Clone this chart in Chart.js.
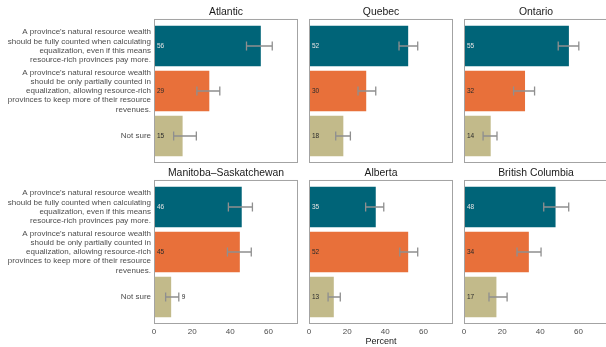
<!DOCTYPE html>
<html><head><meta charset="utf-8">
<script src="https://cdn.jsdelivr.net/npm/chart.js@4/dist/chart.umd.min.js"></script>
<style>
html,body{margin:0;padding:0;background:#fff;overflow:hidden;width:606px;height:347px;}
#stage{position:absolute;left:0;top:0;width:640px;height:347px;}
#stage canvas{position:absolute;}
</style></head><body>
<div id="stage"></div>
<script>
// ---- data ----
const regions = ["Atlantic", "Quebec", "Ontario", "Manitoba–Saskatchewan", "Alberta", "British Columbia"];
const categories = [
  ["A province's natural resource wealth", "should be fully counted when calculating", "equalization, even if this means", "resource-rich provinces pay more."],
  ["A province's natural resource wealth", "should be only partially counted in", "equalization, allowing resource-rich", "provinces to keep more of their resource", "revenues."],
  "Not sure"
];
const fullyCounted     = [56, 52, 55, 46, 35, 48];
const partiallyCounted = [29, 30, 32, 45, 52, 34];
const notSure          = [15, 18, 14, 9, 13, 17];
const fullyLow    = [48.5, 47.2, 49.4, 39.0, 29.7, 41.8];
const fullyHigh   = [62.0, 57.0, 60.2, 51.6, 39.2, 54.9];
const partialLow  = [22.5, 25.7, 26.0, 38.5, 47.6, 27.8];
const partialHigh = [34.5, 35.0, 37.0, 51.0, 57.0, 40.4];
const notSureLow  = [10.3, 14.0, 10.0, 6.1, 10.0, 13.1];
const notSureHigh = [22.2, 21.7, 17.3, 13.0, 16.4, 22.6];
const xTicks = [0, 20, 40, 60];
const axisTitle = "Percent";

// ---- style ----
const barColors = ['#006478', '#E8703A', '#C2BA8A'];
const labelColors = ['#e4e4e4', '#2a2a2a', '#2a2a2a'];
Chart.defaults.font.family = "'Liberation Sans', Arial, sans-serif";

const plotLeft = [154, 309, 464];
const plotWidth = 144;
const yAxisWidth = 154;
const sidePad = 6;

const panelPlugin = {
  id: 'panelDeco',
  afterDatasetsDraw(chart) {
    const i = chart.options.plugins.panelDeco.idx;
    const ctx = chart.ctx;
    const xs = chart.scales.x;
    const meta = chart.getDatasetMeta(0);
    const lows = [fullyLow[i], partialLow[i], notSureLow[i]];
    const highs = [fullyHigh[i], partialHigh[i], notSureHigh[i]];
    const vals = [fullyCounted[i], partiallyCounted[i], notSure[i]];
    const ca = chart.chartArea;
    ctx.save();
    meta.data.forEach((bar, j) => {
      const y = bar.y;
      const x1 = xs.getPixelForValue(lows[j]);
      const x2 = xs.getPixelForValue(highs[j]);
      ctx.strokeStyle = '#8f8f8f';
      ctx.lineWidth = 1.3;
      ctx.beginPath();
      ctx.moveTo(x1, y); ctx.lineTo(x2, y);
      ctx.moveTo(x1, y - 4.5); ctx.lineTo(x1, y + 4.5);
      ctx.moveTo(x2, y - 4.5); ctx.lineTo(x2, y + 4.5);
      ctx.stroke();
    });
    ctx.font = "6.5px 'Liberation Sans', Arial, sans-serif";
    ctx.textBaseline = 'middle';
    ctx.textAlign = 'left';
    meta.data.forEach((bar, j) => {
      const y = bar.y;
      if (vals[j] < 10) {
        ctx.fillStyle = '#2a2a2a';
        ctx.fillText(String(vals[j]), xs.getPixelForValue(highs[j]) + 3, y);
      } else {
        ctx.fillStyle = labelColors[j];
        ctx.fillText(String(vals[j]), ca.left + 3, y);
      }
    });
    ctx.strokeStyle = '#a3a3a3';
    ctx.lineWidth = 1;
    ctx.strokeRect(ca.left + 0.5, ca.top + 0.5, ca.right - ca.left - 1, ca.bottom - ca.top - 1);
    ctx.restore();
  }
};

const stage = document.getElementById('stage');
regions.forEach((name, i) => {
  const row = Math.floor(i / 3), col = i % 3;
  const cv = document.createElement('canvas');
  const padL = col === 0 ? 0 : sidePad;
  const left = col === 0 ? 0 : plotLeft[col] - padL;
  const width = col === 0 ? yAxisWidth + plotWidth : plotWidth + padL;
  const top = row === 0 ? 0 : 161;
  const height = row === 0 ? 164 : 186;
  cv.width = width; cv.height = height;
  cv.style.left = left + 'px'; cv.style.top = top + 'px';
  cv.style.width = width + 'px'; cv.style.height = height + 'px';
  stage.appendChild(cv);
  const values = [fullyCounted[i], partiallyCounted[i], notSure[i]];
  new Chart(cv.getContext('2d'), {
    type: 'bar',
    data: {
      datasets: [{
        data: values.map((v, j) => ({ x: v, y: j + 1 })),
        backgroundColor: barColors,
        borderWidth: 0,
        barPercentage: 0.9,
        categoryPercentage: 1
      }]
    },
    options: {
      indexAxis: 'y',
      responsive: false,
      animation: false,
      devicePixelRatio: 1,
      layout: { padding: { left: padL, right: 0, top: 0, bottom: row === 0 ? 1 : 0 } },
      plugins: {
        legend: { display: false },
        tooltip: { enabled: false },
        title: {
          display: true, text: name, fullSize: false,
          font: { size: 10.4, weight: 'normal', lineHeight: 1.2 },
          color: '#1a1a1a',
          padding: { top: 5.5, bottom: 1 }
        },
        panelDeco: { idx: i }
      },
      scales: {
        x: {
          type: 'linear', min: 0, max: 75.5, offset: false,
          display: row === 1,
          grid: { display: false, drawTicks: false },
          border: { display: false },
          afterBuildTicks: a => { a.ticks = xTicks.map(v => ({ value: v })); },
          ticks: { font: { size: 8 }, color: '#4d4d4d', padding: 3, maxRotation: 0, autoSkip: false },
          title: { display: i === 4, text: axisTitle, font: { size: 9 }, color: '#1a1a1a', padding: { top: 0, bottom: 0 } },
          afterFit: a => { a.height = row === 1 ? 23 : 0; a.paddingLeft = 0; a.paddingRight = 0; }
        },
        y: {
          type: 'linear', min: 0.4, max: 3.6, reverse: true, offset: false,
          display: col === 0,
          grid: { display: false, drawTicks: false, offset: false },
          border: { display: false },
          afterBuildTicks: a => { a.ticks = [1, 2, 3].map(v => ({ value: v })); },
          ticks: {
            callback: v => categories[v - 1],
            font: { size: 8, lineHeight: 1.16 }, color: '#4d4d4d', padding: 3, autoSkip: false
          },
          afterFit: a => { a.width = col === 0 ? yAxisWidth : 0; a.paddingTop = 0; a.paddingBottom = 0; }
        }
      }
    },
    plugins: [panelPlugin]
  });
});
</script>
</body></html>
